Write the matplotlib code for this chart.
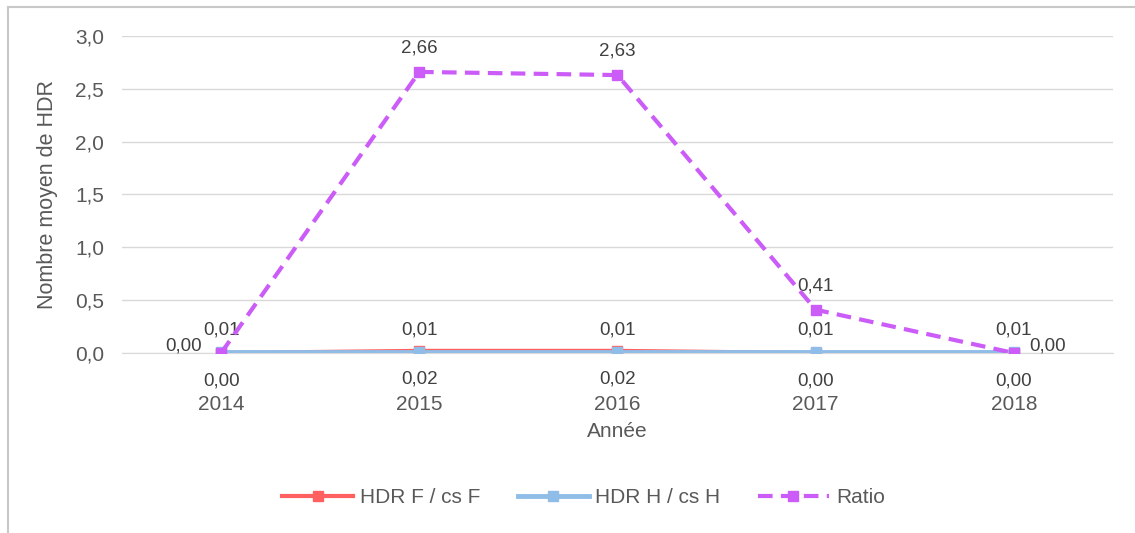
import numpy as np
import matplotlib.pyplot as plt
from matplotlib.lines import Line2D

# Data
years = ['2014', '2015', '2016', '2017', '2018']
hdr_f = [0.00, 0.02, 0.02, 0.00, 0.00]
hdr_h = [0.01, 0.01, 0.01, 0.01, 0.01]
ratio = [0.00, 2.66, 2.63, 0.41, 0.00]

grey = '#595959'
red = '#FF5F5F'
blue = '#8FBDE8'
purple = '#CC5CF7'

plt.rcParams['font.family'] = ['Liberation Sans', 'DejaVu Sans']

fig = plt.figure(figsize=(11.35, 5.33), dpi=100)
ax = fig.add_axes([0.1075, 0.3377, 0.8731, 0.5948])

x = np.arange(len(years))

ax.plot(x, hdr_f, color=red, lw=3, marker='s', ms=7, label='HDR F / cs F', zorder=3)
ax.plot(x, hdr_h, color=blue, lw=3.5, marker='s', ms=7, label='HDR H / cs H', zorder=4)
ax.plot(x, ratio, color=purple, lw=3, ls=(0, (3.5, 2)), marker='s', ms=7,
        label='Ratio', zorder=5)

def fmt(v):
    return f'{v:.2f}'.replace('.', ',')

lab = dict(fontsize=13.5, color='#404040', textcoords='offset points')

# data labels
for i, v in enumerate(hdr_f):
    ax.annotate(fmt(v), (x[i], v), xytext=(0, -14), ha='center', va='top', **lab)
for i, v in enumerate(hdr_h):
    ax.annotate(fmt(v), (x[i], v), xytext=(0, 10), ha='center', va='bottom', **lab)
for i, v in enumerate(ratio):
    if i == 0:
        ax.annotate(fmt(v), (x[i], v), xytext=(-14, 2), ha='right', va='baseline', **lab)
    elif i == len(ratio) - 1:
        ax.annotate(fmt(v), (x[i], v), xytext=(11, 2), ha='left', va='baseline', **lab)
    else:
        ax.annotate(fmt(v), (x[i], v), xytext=(0, 11), ha='center', va='bottom', **lab)

ax.set_xlim(-0.5, len(years) - 0.5)
ax.set_ylim(0, 3.0)
yt = np.arange(0, 3.01, 0.5)
ax.set_yticks(yt)
ax.set_yticklabels([f'{t:.1f}'.replace('.', ',') for t in yt])
ax.set_xticks(x)
ax.set_xticklabels(years)
ax.tick_params(axis='both', length=0, labelsize=15, labelcolor=grey)
ax.tick_params(axis='x', pad=30)
ax.tick_params(axis='y', pad=13)

ax.grid(axis='y', color='#D9D9D9', lw=1)
ax.set_axisbelow(True)
for s in ['top', 'right', 'left']:
    ax.spines[s].set_visible(False)
ax.spines['bottom'].set_color('#D9D9D9')

ax.set_ylabel('Nombre moyen de HDR', fontsize=15.5, color=grey, labelpad=12)
ax.set_xlabel('Année', fontsize=15, color=grey, labelpad=6)

fig.legend(loc='center', bbox_to_anchor=(0.514, 0.066), ncol=3, frameon=False,
           fontsize=15, labelcolor=grey, handlelength=3.4, columnspacing=1.8,
           handletextpad=0.33)

# chart frame (cropped: only top and left edges visible)
fx, fy = 7.5 / 1135, 1 - 6.5 / 533
fig.lines.append(Line2D([fx, 1], [fy, fy], transform=fig.transFigure,
                        color='#C8C8C8', lw=1.5))
fig.lines.append(Line2D([fx, fx], [0, fy], transform=fig.transFigure,
                        color='#C8C8C8', lw=1.5))

fig.savefig('out.png', dpi=100)
